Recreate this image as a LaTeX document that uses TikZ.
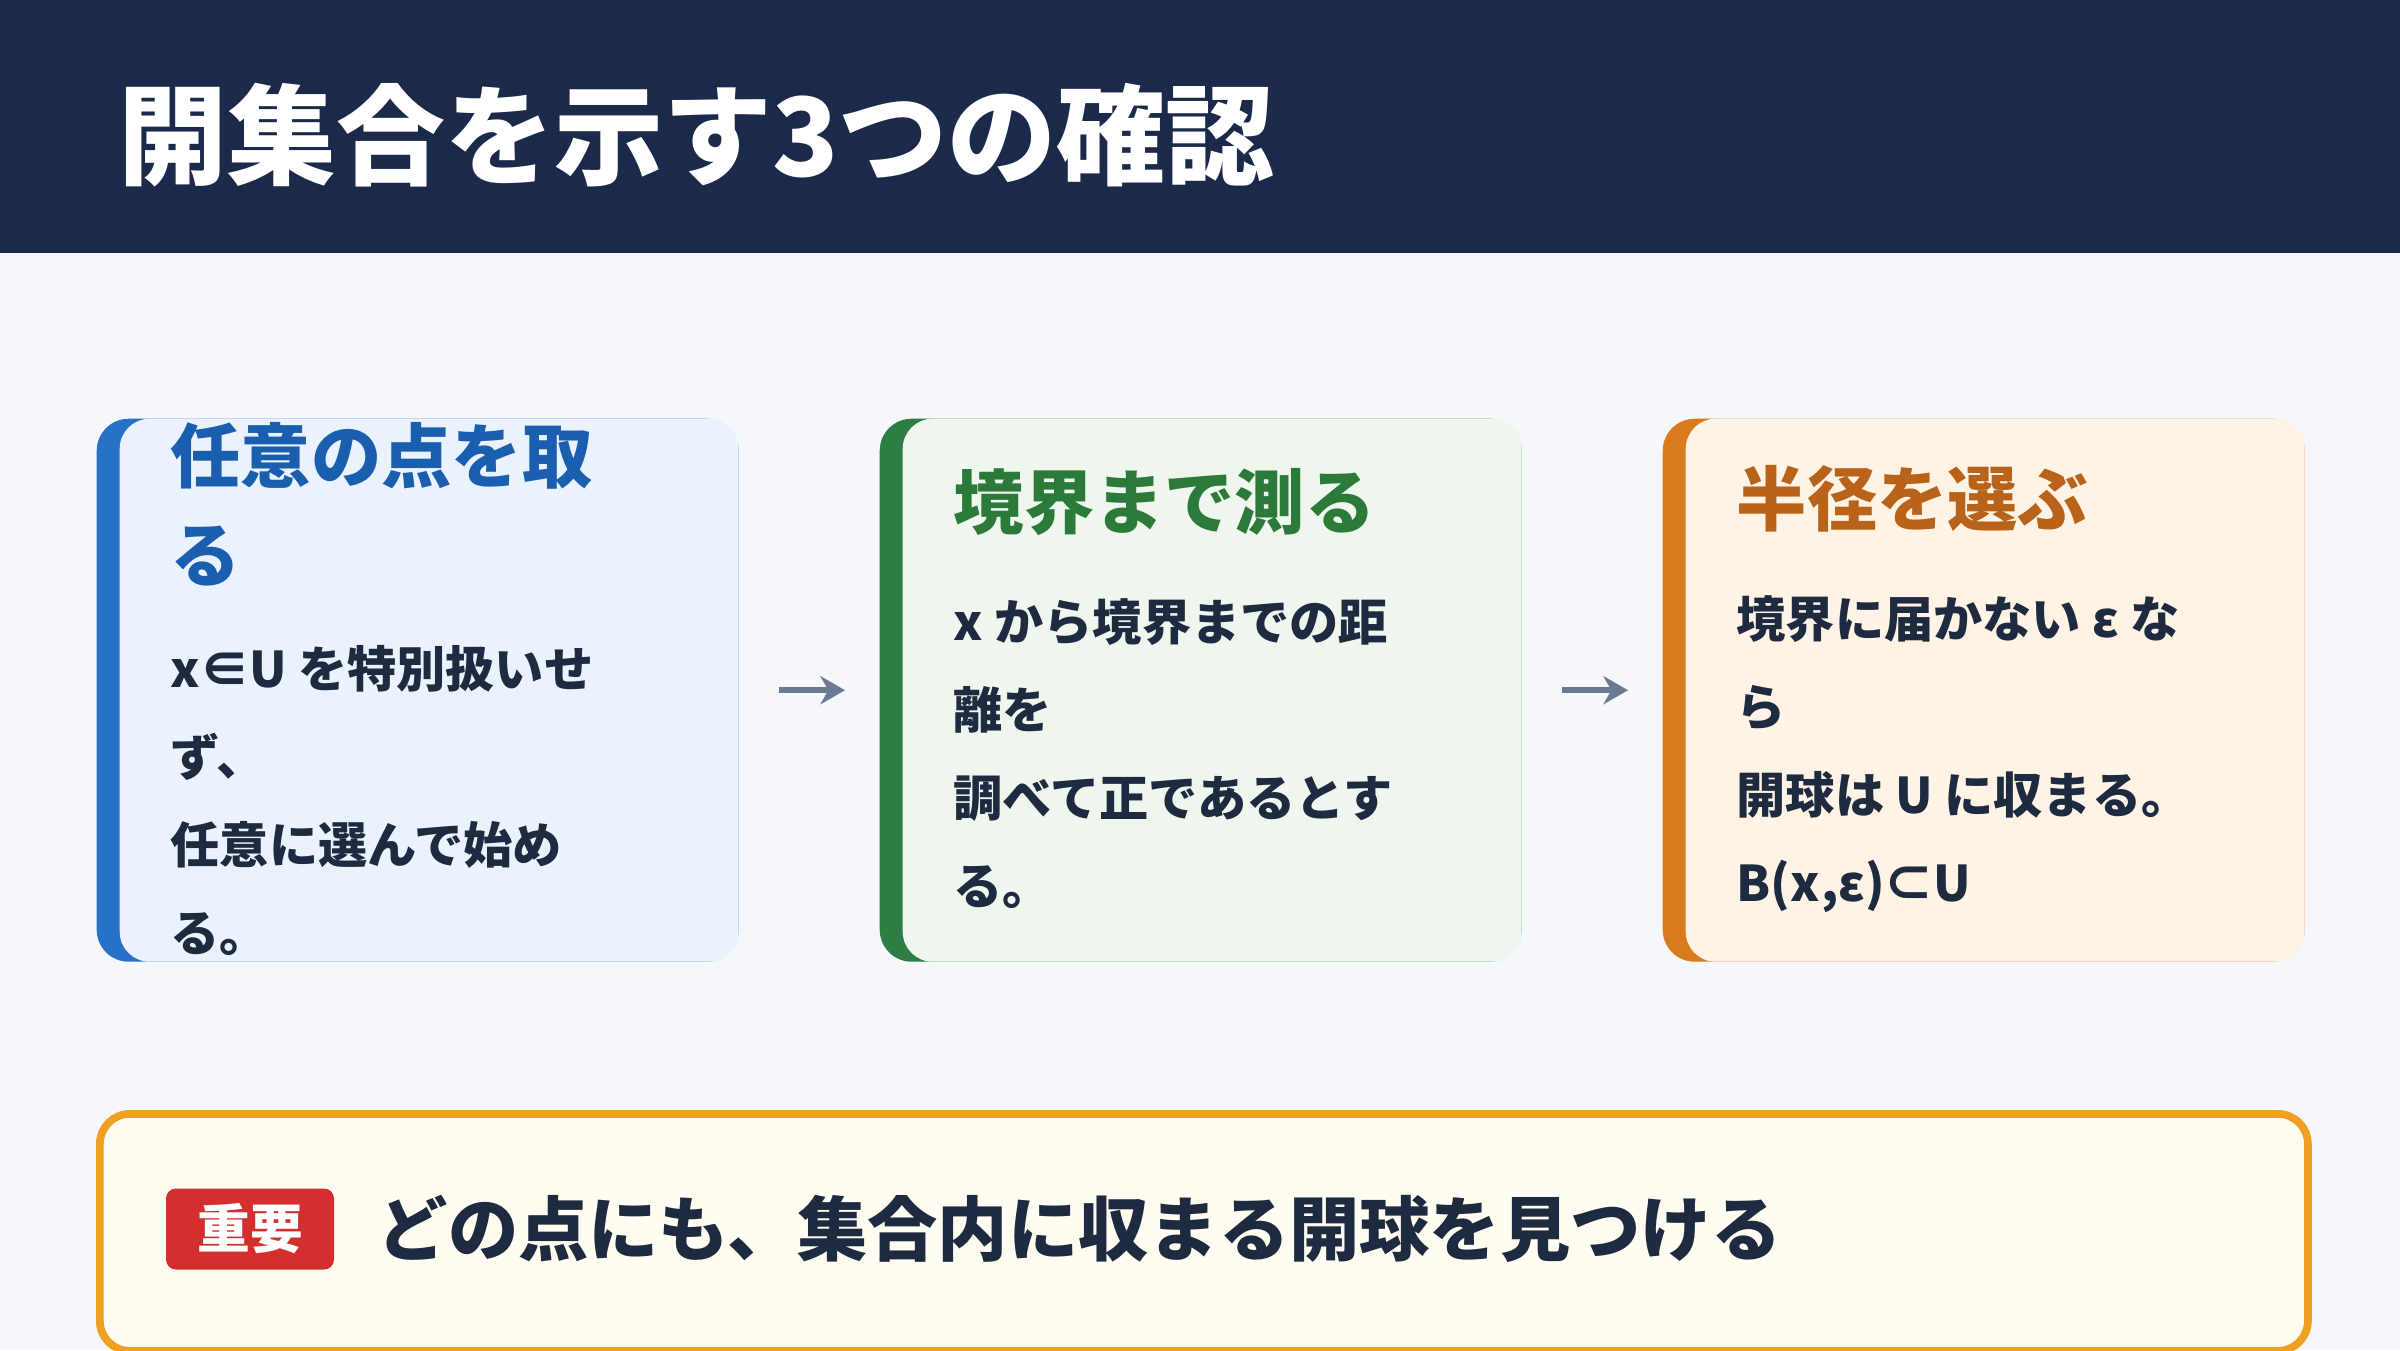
\documentclass[tikz,border=0pt]{standalone}
\usepackage{fontspec}
\setmainfont{Noto Sans CJK JP}
\usepackage{xcolor}
\usetikzlibrary{positioning,arrows.meta}
\definecolor{navy}{HTML}{1B2A4A}
\definecolor{bgpage}{HTML}{F5F7FB}
\definecolor{ink}{HTML}{1E2A3F}
\definecolor{barA}{HTML}{2871C8}
\definecolor{barB}{HTML}{2E7D45}
\definecolor{barC}{HTML}{D97A1C}
\definecolor{fillA}{HTML}{EAF2FD}
\definecolor{fillB}{HTML}{EEF6EE}
\definecolor{fillC}{HTML}{FEF3E4}
\definecolor{headA}{HTML}{1A5FAF}
\definecolor{headB}{HTML}{2C7A3A}
\definecolor{headC}{HTML}{B8621A}
\definecolor{arrowgrey}{HTML}{6B7A90}
\definecolor{noteedge}{HTML}{F0A020}
\definecolor{notefill}{HTML}{FFFCF2}
\definecolor{badge}{HTML}{D32F2F}
\tikzset{
  bar/.style={rounded corners=0.32cm, minimum width=6.42cm, minimum height=5.43cm, anchor=north west, inner sep=0pt},
  card/.style={rounded corners=0.3cm, minimum width=6.19cm, minimum height=5.43cm, anchor=north west, inner sep=0pt},
  head/.style={anchor=north west, align=left, font=\fontsize{20}{28}\selectfont\bfseries, inner sep=0pt},
  body/.style={anchor=north west, align=left, font=\fontsize{14}{25}\selectfont\bfseries, text=ink, inner sep=0pt},
  flow/.style={-{Stealth[length=7pt,width=8pt]}, arrowgrey, line width=1.6pt}
}
\begin{document}
\begin{tikzpicture}
\useasboundingbox (0,0) rectangle (24,-13.5);
\fill[bgpage] (0,0) rectangle (24,-13.5);
\fill[navy] (0,0) rectangle (24,-2.53);
\node(title) [anchor=west, text=white, inner sep=0pt, font=\fontsize{31}{36}\selectfont\bfseries] at (1.18,-1.35) {開集合を示す3つの確認};

% cards
\node(barA) [bar, fill=barA] at (0.96,-4.18) {};
\node(cardA) [card, fill=fillA] at (1.19,-4.18) {};
\node(barB) [bar, fill=barB] at (8.79,-4.18) {};
\node(cardB) [card, fill=fillB] at (9.02,-4.18) {};
\node(barC) [bar, fill=barC] at (16.62,-4.18) {};
\node(cardC) [card, fill=fillC] at (16.85,-4.18) {};

\node(headA) [head, text=headA] at (1.70,-4.22) {任意の点を取\\る};
\node(bodyA) [body] at (1.70,-6.45) {x∈U を特別扱いせ\\ず、\\任意に選んで始め\\る。};
\node(headB) [head, text=headB] at (9.53,-4.68) {境界まで測る};
\node(bodyB) [body] at (9.53,-5.98) {x から境界までの距\\離を\\調べて正であるとす\\る。};
\node(headC) [head, text=headC] at (17.36,-4.65) {半径を選ぶ};
\node(bodyC) [body] at (17.36,-5.95) {境界に届かない ε な\\ら\\開球は U に収まる。\\B(x,ε)⊂U};

\draw[flow, shorten <=0.4cm, shorten >=0.34cm] (cardA.east) -- (barB.west);
\draw[flow, shorten <=0.4cm, shorten >=0.34cm] (cardB.east) -- (barC.west);

% note
\node(note) [draw=noteedge, line width=2.2pt, fill=notefill, rounded corners=0.3cm, minimum width=22.08cm, minimum height=2.37cm, anchor=north west] at (0.96,-11.1) {};
\node(tag) [fill=badge, text=white, rounded corners=0.1cm, minimum width=1.68cm, minimum height=0.81cm, font=\fontsize{15}{18}\selectfont\bfseries] at (2.5,-12.29) {重要};
\node(msg) [anchor=west, text=ink, inner sep=0pt, font=\fontsize{20}{24}\selectfont\bfseries] at (3.77,-12.29) {どの点にも、集合内に収まる開球を見つける};
\end{tikzpicture}
\end{document}
